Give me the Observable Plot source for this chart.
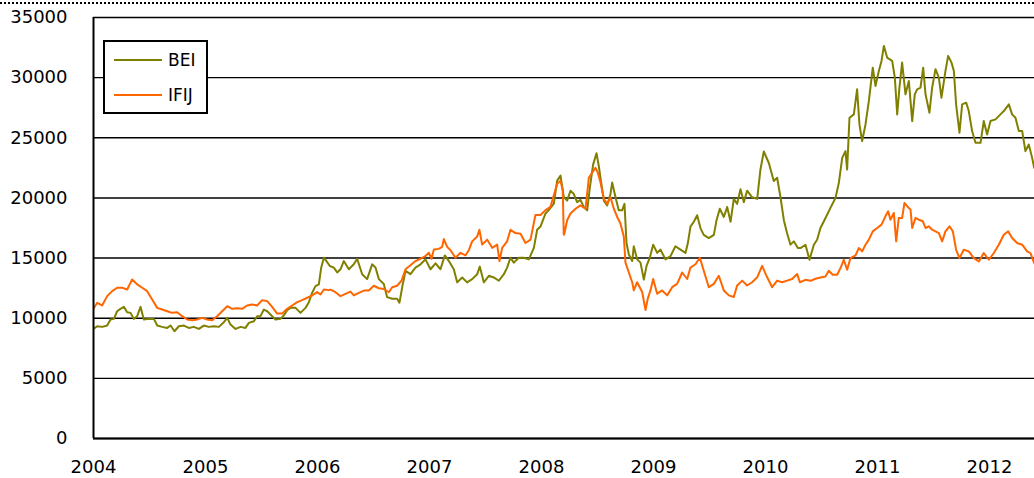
<!DOCTYPE html>
<html>
<head>
<meta charset="utf-8">
<script src="https://cdn.jsdelivr.net/npm/d3@7"></script>
<script src="https://cdn.jsdelivr.net/npm/@observablehq/plot@0.6"></script>
<style>
  html, body { margin: 0; padding: 0; background: #fff; overflow: hidden; }
  #wrap { position: relative; width: 1034px; height: 478px; font-family: "DejaVu Sans", sans-serif; }
  #dots { position: absolute; left: 0; top: 2px; width: 1034px; border-top: 2px dotted #000; }
  #legend { position: absolute; left: 103px; top: 40px; width: 105px; height: 74px; box-sizing: border-box;
            border: 2px solid #000; background: #fff; }
  .row { height: 35px; display: flex; align-items: center; padding-left: 9px; font-size: 17px; color: #000; }
  .sw { width: 48px; height: 2px; margin-right: 6px; }
  svg { display: block; }
</style>
</head>
<body>
<div id="wrap">
  <div id="chart"></div>
  <div id="dots"></div>
  <div id="legend"></div>
</div>
<script>
const seriesNames = ["BEI", "IFIJ"];
const seriesColors = ["#808000", "#FF6600"];
const yearTicks = [2004, 2005, 2006, 2007, 2008, 2009, 2010, 2011, 2012];
const valueTicks = [0, 5000, 10000, 15000, 20000, 25000, 30000, 35000];

const beiYears = [
2004.000,2004.033,2004.077,2004.122,2004.152,2004.182,2004.211,2004.241,2004.271,2004.301,2004.330,2004.360,2004.390,2004.420,2004.449,2004.494,2004.539,2004.569,2004.613,2004.658,2004.688,2004.723,2004.762,2004.807,2004.851,2004.896,2004.941,2004.985,
2005.030,2005.074,2005.119,2005.164,2005.194,2005.223,2005.268,2005.313,2005.357,2005.387,2005.432,2005.461,2005.491,2005.521,2005.551,2005.595,2005.625,2005.670,2005.699,2005.729,2005.759,2005.804,2005.848,2005.893,2005.923,2005.952,2005.982,
2006.012,2006.033,2006.057,2006.080,2006.110,2006.146,2006.176,2006.205,2006.235,2006.280,2006.324,2006.354,2006.399,2006.443,2006.488,2006.518,2006.548,2006.592,2006.622,2006.667,2006.711,2006.732,2006.756,2006.786,2006.830,2006.875,2006.920,2006.964,
2007.009,2007.054,2007.098,2007.137,2007.173,2007.217,2007.247,2007.292,2007.336,2007.381,2007.426,2007.449,2007.485,2007.530,2007.574,2007.619,2007.664,2007.693,2007.723,2007.753,2007.798,2007.842,2007.887,2007.932,2007.961,2007.991,
2008.036,2008.065,2008.110,2008.140,2008.170,2008.199,2008.229,2008.259,2008.289,2008.318,2008.348,2008.378,2008.408,2008.432,2008.461,2008.491,2008.512,2008.533,2008.557,2008.586,2008.616,2008.631,2008.661,2008.690,2008.720,2008.741,2008.759,2008.780,2008.810,2008.824,2008.854,2008.884,2008.914,2008.938,2008.967,2008.997,
2009.033,2009.063,2009.107,2009.152,2009.196,2009.241,2009.286,2009.307,2009.330,2009.360,2009.390,2009.420,2009.449,2009.494,2009.539,2009.563,2009.592,2009.628,2009.658,2009.688,2009.717,2009.747,2009.777,2009.807,2009.836,2009.881,2009.926,2009.955,2009.985,
2010.030,2010.074,2010.104,2010.134,2010.164,2010.193,2010.223,2010.253,2010.289,2010.313,2010.357,2010.393,2010.432,2010.461,2010.491,2010.536,2010.580,2010.625,2010.655,2010.685,2010.714,2010.729,2010.750,2010.789,2010.818,2010.839,2010.863,2010.893,2010.923,2010.958,2010.982,
2011.012,2011.036,2011.057,2011.086,2011.131,2011.155,2011.176,2011.196,2011.220,2011.250,2011.280,2011.310,2011.333,2011.354,2011.384,2011.408,2011.429,2011.464,2011.488,2011.518,2011.548,2011.571,2011.607,2011.631,2011.661,2011.682,2011.702,2011.732,2011.756,2011.792,2011.815,2011.845,2011.875,2011.920,2011.949,2011.979,
2012.009,2012.054,2012.098,2012.128,2012.173,2012.202,2012.232,2012.262,2012.292,2012.321,2012.351,2012.381,2012.399
];
const beiValues = [
9110,9333,9280,9390,9890,9945,10580,10780,10945,10500,10445,9945,10170,10945,9890,9945,9945,9390,9280,9195,9390,8915,9333,9390,9195,9280,9110,9390,
9280,9333,9280,9667,10030,9470,9110,9280,9195,9610,9750,10170,10170,10720,10580,10170,9890,9945,10220,10670,10860,10860,10445,10860,11334,12110,12670,
12810,14200,15030,14750,14340,14210,13800,14070,14750,14070,14480,14945,13660,13250,14480,14210,13250,12840,11750,11615,11615,11290,12570,13935,13660,14210,14480,14890,
14070,14560,14070,15220,14750,14070,12980,13390,12980,13250,13660,14290,12980,13525,13390,13115,13660,14210,15030,14620,15030,15030,14890,15850,17350,17620,
18710,18985,19530,21440,21850,20080,19780,20600,20325,19650,19840,19240,18970,20870,22770,23720,22635,21275,19780,19375,20325,21275,20055,18970,18970,19510,16250,15300,14755,15980,14890,14620,13205,14350,15030,16115,
15435,15705,14890,15165,15980,15705,15435,16250,17610,18015,18560,17470,16930,16660,16930,18150,19100,18420,19240,18015,19920,19510,20730,19650,20600,20055,19920,22365,23860,
22905,21410,21680,20055,18150,17065,16115,16390,15840,15830,16110,14860,16110,16530,17500,18330,19170,20000,21250,23330,23890,22360,26670,26945,29030,26110,24720,26110,28060,30830,29310,
30560,31390,32640,31670,31390,30000,26945,29170,31250,28610,29720,26390,28610,29030,29170,30830,28610,27080,29170,30700,30000,28330,30560,31810,31250,30560,27780,25420,27780,27920,27220,25560,24580,24580,26390,25280,
26390,26530,26945,27220,27780,26945,26670,25560,25560,23890,24440,23330,22500
];

const ifijYears = [
2004.000,2004.033,2004.077,2004.122,2004.167,2004.211,2004.256,2004.301,2004.345,2004.390,2004.435,2004.479,2004.524,2004.569,2004.613,2004.658,2004.702,2004.747,2004.792,2004.836,2004.881,2004.926,2004.970,
2005.015,2005.060,2005.104,2005.149,2005.194,2005.238,2005.283,2005.327,2005.372,2005.417,2005.461,2005.506,2005.551,2005.595,2005.640,2005.685,2005.729,2005.774,2005.819,2005.863,2005.908,2005.952,2005.997,
2006.027,2006.057,2006.101,2006.116,2006.161,2006.205,2006.250,2006.295,2006.324,2006.369,2006.414,2006.458,2006.503,2006.548,2006.592,2006.637,2006.667,2006.711,2006.750,2006.786,2006.830,2006.875,2006.920,2006.964,2006.994,
2007.018,2007.039,2007.083,2007.113,2007.128,2007.158,2007.188,2007.232,2007.277,2007.321,2007.351,2007.381,2007.426,2007.446,2007.470,2007.515,2007.560,2007.604,2007.625,2007.649,2007.693,2007.723,2007.768,2007.813,2007.857,2007.902,2007.946,2007.991,
2008.036,2008.080,2008.110,2008.140,2008.170,2008.190,2008.199,2008.205,2008.229,2008.259,2008.304,2008.348,2008.393,2008.423,2008.452,2008.482,2008.503,2008.527,2008.557,2008.586,2008.616,2008.646,2008.676,2008.705,2008.735,2008.750,2008.780,2008.810,2008.824,2008.854,2008.899,2008.929,2008.949,2008.973,2008.997,
2009.033,2009.077,2009.122,2009.167,2009.211,2009.256,2009.301,2009.330,2009.375,2009.414,2009.449,2009.494,2009.539,2009.583,2009.628,2009.673,2009.717,2009.747,2009.792,2009.836,2009.881,2009.926,2009.970,
2010.015,2010.060,2010.104,2010.149,2010.193,2010.238,2010.283,2010.307,2010.357,2010.402,2010.446,2010.491,2010.536,2010.565,2010.601,2010.640,2010.670,2010.699,2010.729,2010.759,2010.804,2010.833,2010.863,2010.893,2010.923,2010.958,2010.997,
2011.036,2011.071,2011.095,2011.116,2011.146,2011.167,2011.190,2011.220,2011.241,2011.265,2011.295,2011.310,2011.339,2011.369,2011.405,2011.429,2011.458,2011.488,2011.518,2011.548,2011.577,2011.607,2011.643,2011.673,2011.702,2011.732,2011.771,2011.815,2011.860,2011.905,2011.949,2011.994,
2012.039,2012.083,2012.128,2012.167,2012.202,2012.247,2012.292,2012.336,2012.366,2012.399
];
const ifijValues = [
10780,11280,11060,11835,12250,12530,12530,12390,13225,12810,12530,12250,11557,10860,10720,10580,10445,10500,10170,9890,9833,9890,10030,
9890,9833,10170,10580,11000,10780,10834,10780,11056,11140,11056,11500,11420,10945,10390,10390,10780,11056,11334,11500,11700,11890,12170,
11975,12390,12335,12380,12160,11830,12025,12215,11890,12105,12300,12300,12700,12490,12430,12160,12570,12700,13115,14070,14400,14750,14945,15165,15440,
14945,15710,15765,15930,16580,15930,15655,15030,15440,15220,15655,16390,16800,17350,16120,16530,15850,16120,14750,15850,16390,17350,17075,17020,16255,16530,18575,18575,
18985,19260,20215,21170,21440,20625,16940,17065,18150,18700,19100,19375,19100,21680,22090,22500,22090,21275,19920,19510,20055,19100,18420,17880,16795,14620,13800,12990,12310,12990,12175,10680,11630,12310,13260,
12040,12310,11900,12580,12855,13800,13260,14210,14485,15030,13940,12580,12855,13530,12310,11900,11770,12720,13125,12720,12990,13400,14350,
13400,12580,13125,12990,13125,13260,13670,12990,13190,13110,13280,13390,13470,13940,13610,13610,14170,14860,14030,15000,15220,15830,15560,16110,16530,17220,17500,
17780,18470,18890,18190,18750,16390,18330,18330,19580,19310,19030,17500,18330,18190,18060,17500,17640,17360,17220,17080,16390,17220,17640,17220,15690,15000,15690,15560,15000,14720,15420,14860,
15420,16110,16940,17220,16670,16250,16110,15560,15420,14580
];

const data = [
  ...beiYears.map((t, i) => ({series: seriesNames[0], year: t, value: beiValues[i]})),
  ...ifijYears.map((t, i) => ({series: seriesNames[1], year: t, value: ifijValues[i]}))
];

const chart = Plot.plot({
  width: 1034,
  height: 478,
  marginLeft: 93,
  marginRight: 0,
  marginTop: 17,
  marginBottom: 40,
  style: {fontFamily: "DejaVu Sans", fontSize: "18px", color: "#000", background: "#fff"},
  x: {type: "linear", domain: [2004, 2012.402], ticks: yearTicks, tickFormat: d => String(d), tickSize: 0, tickPadding: 22, label: null},
  y: {domain: [0, 35000], ticks: valueTicks, tickFormat: d => String(d), tickSize: 0, tickPadding: 26, label: null},
  color: {domain: seriesNames, range: seriesColors},
  marks: [
    Plot.ruleY(valueTicks, {stroke: "#000", strokeWidth: 1.4}),
    Plot.line(data.filter(d => d.series === seriesNames[0]), {x: "year", y: "value", stroke: "series", strokeWidth: 2, clip: true}),
    Plot.line(data.filter(d => d.series === seriesNames[1]), {x: "year", y: "value", stroke: "series", strokeWidth: 2, clip: true}),
    Plot.ruleX([2004], {stroke: "#000", strokeWidth: 2}),
    Plot.ruleY([0], {stroke: "#000", strokeWidth: 2})
  ]
});
document.getElementById("chart").appendChild(chart);

const legend = document.getElementById("legend");
seriesNames.forEach((name, i) => {
  const row = document.createElement("div");
  row.className = "row";
  const sw = document.createElement("span");
  sw.className = "sw";
  sw.style.background = seriesColors[i];
  const label = document.createElement("span");
  label.textContent = name;
  row.appendChild(sw);
  row.appendChild(label);
  legend.appendChild(row);
});
</script>
</body>
</html>
